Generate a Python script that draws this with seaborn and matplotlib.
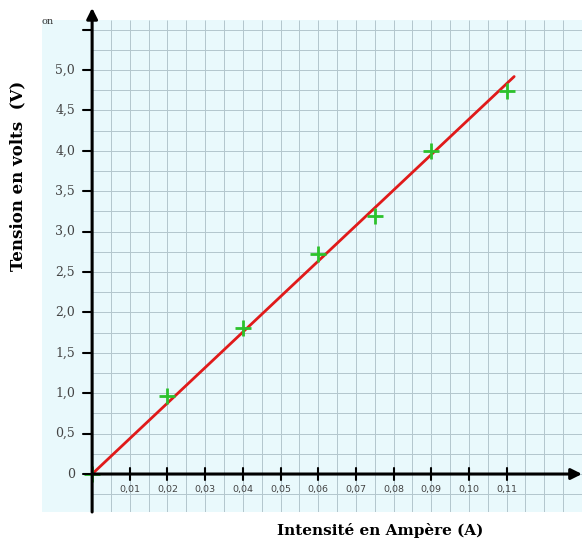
import matplotlib
matplotlib.use("Agg")
import matplotlib.pyplot as plt
import numpy as np
import pandas as pd
import seaborn as sns

# Data
intensite = [0.0, 0.02, 0.04, 0.06, 0.075, 0.09, 0.11]
tension = [0.0, 0.97, 1.81, 2.72, 3.20, 4.00, 4.74]

# droite moyenne tracee a la main
fit_x = [0.0, 0.112]
fit_y = [0.0, 4.92]

x_ticks = [0.01, 0.02, 0.03, 0.04, 0.05, 0.06, 0.07, 0.08, 0.09, 0.10, 0.11]
x_labels = ['0,01', '0,02', '0,03', '0,04', '0,05', '0,06', '0,07', '0,08', '0,09', '0,10', '0,11']
y_ticks = [0, 0.5, 1.0, 1.5, 2.0, 2.5, 3.0, 3.5, 4.0, 4.5, 5.0, 5.5]
y_labels = ['0', '0,5', '1,0', '1,5', '2,0', '2,5', '3,0', '3,5', '4,0', '4,5', '5,0', '']

df = pd.DataFrame({'I': intensite, 'U': tension})
fit = pd.DataFrame({'I': fit_x, 'U': fit_y})

sns.set_style('white', {'axes.facecolor': '#e9f9fc'})

fig = plt.figure(figsize=(5.82, 5.4), dpi=100)
ax = fig.add_axes([42 / 582, 28 / 540, 1 - 42 / 582, 492 / 540])

xmin, xmax = -0.0133, 0.13
ymin, ymax = -0.47, 5.62
ax.set_xlim(xmin, xmax)
ax.set_ylim(ymin, ymax)

# papier millimetre
gc = '#b3c6cd'
for gx in np.arange(0.005, xmax, 0.005):
    ax.vlines(gx, ymin, ymax, color=gc, lw=0.7, zorder=1)
for gy in np.arange(-0.25, ymax, 0.25):
    ax.hlines(gy, 0, xmax, color=gc, lw=0.7, zorder=1)

sns.lineplot(data=fit, x='I', y='U', color='#e01a1a', lw=2, ax=ax, zorder=4)
sns.scatterplot(data=df, x='I', y='U', marker='+', s=130, color='#2cc22c',
                linewidth=2, ax=ax, zorder=5)

for s in ax.spines.values():
    s.set_visible(False)

# axes avec fleches
ax.annotate('', xy=(xmax, 0), xytext=(0, 0),
            arrowprops=dict(arrowstyle='-|>', lw=2.2, color='black', mutation_scale=16,
                            shrinkA=0, shrinkB=0), annotation_clip=False, zorder=6)
ax.annotate('', xy=(0, 5.77), xytext=(0, ymin),
            arrowprops=dict(arrowstyle='-|>', lw=2.2, color='black', mutation_scale=16,
                            shrinkA=0, shrinkB=0), annotation_clip=False, zorder=6)

# graduations
for tx, lab in zip(x_ticks, x_labels):
    ax.plot([tx, tx], [-0.08, 0.08], color='black', lw=1.5, zorder=6)
    ax.text(tx, -0.19, lab, ha='center', va='center', fontsize=6.8,
            color='#444444', family='DejaVu Sans')
for ty, lab in zip(y_ticks, y_labels):
    ax.plot([-0.0025, 0], [ty, ty], color='black', lw=1.5, zorder=6, clip_on=False)
    ax.text(-0.0045, ty, lab, ha='right', va='center', fontsize=9,
            color='#444444', family='DejaVu Serif')

ax.set_xticks([])
ax.set_yticks([])
ax.set_xlabel('')
ax.set_ylabel('')

fig.text(42 / 582, 1 - 22 / 540, 'on', fontsize=7, color='#333333',
         family='DejaVu Serif', va='center')
fig.text(18 / 582, 1 - 176 / 540, 'Tension en volts  (V)', rotation=90, color='black',
         ha='center', va='center', fontsize=12, fontweight='bold', family='DejaVu Serif')
fig.text(380 / 582, 1 - 531 / 540, 'Intensité en Ampère (A)', color='black',
         ha='center', va='center', fontsize=11, fontweight='bold', family='DejaVu Serif')

fig.savefig('out.png', dpi=100)
